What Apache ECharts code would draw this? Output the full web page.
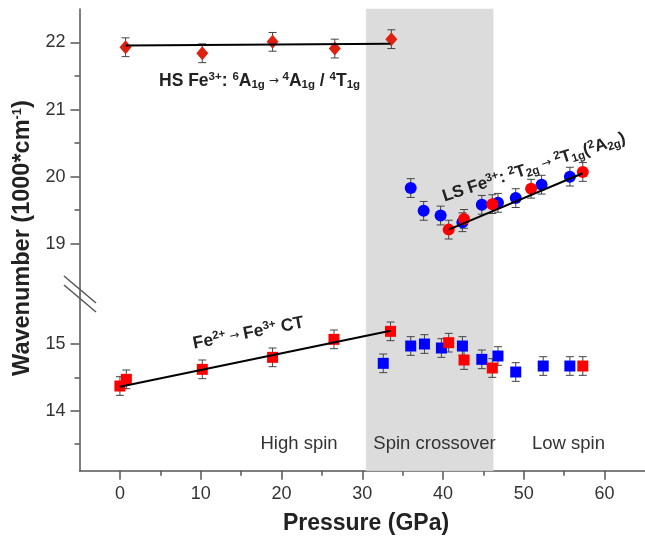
<!DOCTYPE html>
<html><head><meta charset="utf-8">
<script src="https://cdn.jsdelivr.net/npm/echarts@6/dist/echarts.min.js"></script>
<style>html,body{margin:0;padding:0;background:#fff}#c{width:645px;height:542px}</style>
</head><body><div id="c"></div>
<script>
// ---------- data ----------
const hsPressure = [0.7, 10.2, 18.9, 26.6, 33.6];
const hsWavenumber = [21.93, 21.84, 22.01, 21.91, 22.05];
const hsFitPressure = [0.7, 33.5];
const hsFitWavenumber = [21.955, 21.98];

const lsBluePressure = [36.0, 37.6, 39.7, 42.4, 44.8, 46.8, 49.0, 52.2, 55.7];
const lsBlueWavenumber = [19.83, 19.49, 19.42, 19.32, 19.58, 19.61, 19.68, 19.88, 20.0];
const lsRedPressure = [40.7, 42.6, 46.1, 50.9, 57.3];
const lsRedWavenumber = [19.21, 19.37, 19.59, 19.82, 20.07];
const lsFitPressure = [40.7, 57.3];
const lsFitWavenumber = [19.21, 20.05];

const ctBluePressure = [32.6, 36.0, 37.7, 39.8, 42.4, 44.8, 46.8, 49.0, 52.4, 55.7];
const ctBlueWavenumber = [14.71, 14.97, 15.00, 14.94, 14.97, 14.77, 14.82, 14.58, 14.67, 14.67];
const ctRedPressure = [0.0, 0.8, 10.2, 18.9, 26.5, 33.5, 40.7, 42.6, 46.1, 57.3];
const ctRedWavenumber = [14.37, 14.47, 14.62, 14.80, 15.07, 15.19, 15.02, 14.76, 14.64, 14.67];
const ctFitPressure = [0.0, 33.5];
const ctFitWavenumber = [14.36, 15.20];

const errorBar = 0.14;
const spinCrossoverRange = [30.5, 46.2];

const xTickLabels = [0, 10, 20, 30, 40, 50, 60];
const xMinorTicks = [5, 15, 25, 35, 45, 55];
const upperYTickLabels = [19, 20, 21, 22];
const upperYMinorTicks = [19.5, 20.5, 21.5];
const lowerYTickLabels = [14, 15];
const lowerYMinorTicks = [13.5, 14.5];

// ---------- helpers ----------
const FONT = "'Liberation Sans', Arial, sans-serif";
const AX = '#555';
const pairs = (xs, ys) => xs.map((x, i) => [x, ys[i]]);
const errPairs = (xs, ys) => xs.map((x, i) => [x, ys[i], errorBar]);

function errRender(params, api) {
  const x = api.value(0), y = api.value(1), e = api.value(2);
  const t = api.coord([x, y + e]), b = api.coord([x, y - e]);
  const hw = 4, st = { stroke: '#444', lineWidth: 1 };
  return { type: 'group', children: [
    { type: 'line', shape: { x1: t[0], y1: t[1], x2: b[0], y2: b[1] }, style: st },
    { type: 'line', shape: { x1: t[0] - hw, y1: t[1], x2: t[0] + hw, y2: t[1] }, style: st },
    { type: 'line', shape: { x1: b[0] - hw, y1: b[1], x2: b[0] + hw, y2: b[1] }, style: st }
  ]};
}
function errSeries(xi, yi, xs, ys) {
  return { type: 'custom', xAxisIndex: xi, yAxisIndex: yi, renderItem: errRender,
    data: errPairs(xs, ys), encode: { x: 0, y: 1 }, z: 2, silent: true };
}
function scat(xi, yi, xs, ys, symbol, size, color) {
  return { type: 'scatter', xAxisIndex: xi, yAxisIndex: yi, data: pairs(xs, ys),
    symbol: symbol, symbolSize: size, itemStyle: { color: color, opacity: 1 }, z: 3, silent: true };
}
function fit(xi, yi, xs, ys) {
  return { type: 'line', xAxisIndex: xi, yAxisIndex: yi, data: pairs(xs, ys), symbol: 'none',
    lineStyle: { color: '#000', width: 2 }, z: 4, silent: true };
}
function shade(xi, yi) {
  return { type: 'line', xAxisIndex: xi, yAxisIndex: yi, data: [], z: 0, silent: true,
    markArea: { silent: true, itemStyle: { color: '#dcdcdc', borderColor: '#dcdcdc', borderWidth: 0.6 },
      data: [[{ xAxis: spinCrossoverRange[0] }, { xAxis: spinCrossoverRange[1] }]] } };
}
function mainY(grid, min, max, labels) {
  return { type: 'value', gridIndex: grid, min: min, max: max, position: 'left',
    axisLine: { show: true, onZero: false, lineStyle: { color: AX, width: 1.5 } },
    axisTick: { show: true, customValues: labels, length: 9, lineStyle: { color: AX, width: 1.5 } },
    axisLabel: { customValues: labels, fontSize: 18, color: '#333', fontFamily: FONT, margin: 14 },
    splitLine: { show: false } };
}
function minorY(grid, min, max, ticks) {
  return { type: 'value', gridIndex: grid, min: min, max: max, position: 'left',
    axisLine: { show: false, onZero: false },
    axisTick: { show: true, customValues: ticks, length: 5, lineStyle: { color: AX, width: 1.5 } },
    axisLabel: { show: false }, splitLine: { show: false } };
}

const sub = (t) => '{sub|' + t + '}';
const sup = (t) => '{sup|' + t + '}';
const b = (t) => '{b|' + t + '}';
const richLabel = (fs) => ({
  b: { fontSize: fs, fontWeight: 'bold', fontFamily: FONT, fill: '#222', lineHeight: 20, verticalAlign: 'middle' },
  sup: { fontSize: 11.5, fontWeight: 'bold', fontFamily: FONT, fill: '#222', verticalAlign: 'top', lineHeight: 11 },
  sub: { fontSize: 11.5, fontWeight: 'bold', fontFamily: FONT, fill: '#222', verticalAlign: 'bottom', lineHeight: 11 },
  ar: { fontSize: 12, fontFamily: 'DejaVu Sans', fill: '#222', verticalAlign: 'middle', lineHeight: 20 }
});

const hsText = b('HS Fe') + sup('3+') + b(': ') + sup('6') + b('A') + sub('1g') + '{ar| → }' + sup('4') + b('A') + sub('1g') + b(' / ') + sup('4') + b('T') + sub('1g');
const ctText = b('Fe') + sup('2+') + '{ar| → }' + b('Fe') + sup('3+') + b(' CT');
const lsText = b('LS Fe') + sup('3+') + b(': ') + sup('2') + b('T') + sub('2g') + '{ar| → }' + sup('2') + b('T') + sub('1g') + b('(') + sup('2') + b('A') + sub('2g') + b(')');

const chart = echarts.init(document.getElementById('c'), null, { renderer: 'canvas' });
const GL = 79.5, GW = 573.3;
chart.setOption({
  animation: false,
  backgroundColor: '#fff',
  grid: [
    { left: GL, width: GW, top: 9, height: 285 },
    { left: GL, width: GW, top: 294, height: 176.7 }
  ],
  xAxis: [
    { type: 'value', gridIndex: 1, min: -5, max: 65, position: 'bottom',
      axisLine: { show: true, onZero: false, lineStyle: { color: AX, width: 1.5 } },
      axisTick: { show: true, customValues: xTickLabels, length: 9, lineStyle: { color: AX, width: 1.5 } },
      axisLabel: { customValues: xTickLabels, fontSize: 18, color: '#333', fontFamily: FONT, margin: 14 },
      splitLine: { show: false } },
    { type: 'value', gridIndex: 1, min: -5, max: 65, position: 'bottom',
      axisLine: { show: false, onZero: false },
      axisTick: { show: true, customValues: xMinorTicks, length: 5, lineStyle: { color: AX, width: 1.5 } },
      axisLabel: { show: false }, splitLine: { show: false } },
    { type: 'value', gridIndex: 0, min: -5, max: 65, show: false }
  ],
  yAxis: [
    mainY(0, 18.25, 22.5, upperYTickLabels),
    minorY(0, 18.25, 22.5, upperYMinorTicks),
    mainY(1, 13.1, 15.75, lowerYTickLabels),
    minorY(1, 13.1, 15.75, lowerYMinorTicks)
  ],
  series: [
    shade(2, 0),
    shade(0, 2),
    errSeries(2, 0, hsPressure, hsWavenumber),
    errSeries(2, 0, lsBluePressure, lsBlueWavenumber),
    errSeries(2, 0, lsRedPressure, lsRedWavenumber),
    errSeries(0, 2, ctBluePressure, ctBlueWavenumber),
    errSeries(0, 2, ctRedPressure, ctRedWavenumber),
    scat(2, 0, hsPressure, hsWavenumber, 'diamond', [12, 14], '#dd2211'),
    scat(2, 0, lsBluePressure, lsBlueWavenumber, 'circle', 12, '#0000ff'),
    scat(2, 0, lsRedPressure, lsRedWavenumber, 'circle', 12, '#ff0000'),
    scat(0, 2, ctBluePressure, ctBlueWavenumber, 'rect', 11, '#0000ff'),
    scat(0, 2, ctRedPressure, ctRedWavenumber, 'rect', 11, '#ff0000'),
    fit(2, 0, hsFitPressure, hsFitWavenumber),
    fit(2, 0, lsFitPressure, lsFitWavenumber),
    fit(0, 2, ctFitPressure, ctFitWavenumber)
  ],
  graphic: [
    { type: 'line', shape: { x1: 64, y1: 276, x2: 96, y2: 303 }, style: { stroke: AX, lineWidth: 1.5 }, z: 10 },
    { type: 'line', shape: { x1: 64, y1: 285, x2: 96, y2: 312 }, style: { stroke: AX, lineWidth: 1.5 }, z: 10 },
    { type: 'text', x: 159, y: 81, z: 10, style: { text: hsText, rich: richLabel(17.5), align: 'left', verticalAlign: 'middle' } },
    { type: 'text', x: 193, y: 344, rotation: 11 * Math.PI / 180, z: 10, style: { text: ctText, rich: richLabel(17.5), align: 'left', verticalAlign: 'middle' } },
    { type: 'text', x: 443, y: 197, rotation: 18 * Math.PI / 180, z: 10, style: { text: lsText, rich: richLabel(17), align: 'left', verticalAlign: 'middle' } },
    { type: 'text', x: 299, y: 444, z: 10, style: { text: 'High spin', fontSize: 18.5, fontFamily: FONT, fill: '#333', align: 'center', verticalAlign: 'middle' } },
    { type: 'text', x: 434.5, y: 444, z: 10, style: { text: 'Spin crossover', fontSize: 18.5, fontFamily: FONT, fill: '#333', align: 'center', verticalAlign: 'middle' } },
    { type: 'text', x: 568.5, y: 444, z: 10, style: { text: 'Low spin', fontSize: 18.5, fontFamily: FONT, fill: '#333', align: 'center', verticalAlign: 'middle' } },
    { type: 'text', x: 366, y: 524, z: 10, style: { text: 'Pressure (GPa)', fontSize: 23, fontWeight: 'bold', fontFamily: FONT, fill: '#222', align: 'center', verticalAlign: 'middle' } },
    { type: 'text', x: 23, y: 238, rotation: Math.PI / 2, z: 10, style: {
      text: '{t|Wavenumber (1000*cm}{s|-1}{t|)}', align: 'center', verticalAlign: 'middle',
      rich: { t: { fontSize: 23.5, fontWeight: 'bold', fontFamily: FONT, fill: '#222', lineHeight: 24, verticalAlign: 'middle' },
              s: { fontSize: 13, fontWeight: 'bold', fontFamily: FONT, fill: '#222', lineHeight: 13, verticalAlign: 'top' } } } }
  ]
});
</script>
</body></html>
